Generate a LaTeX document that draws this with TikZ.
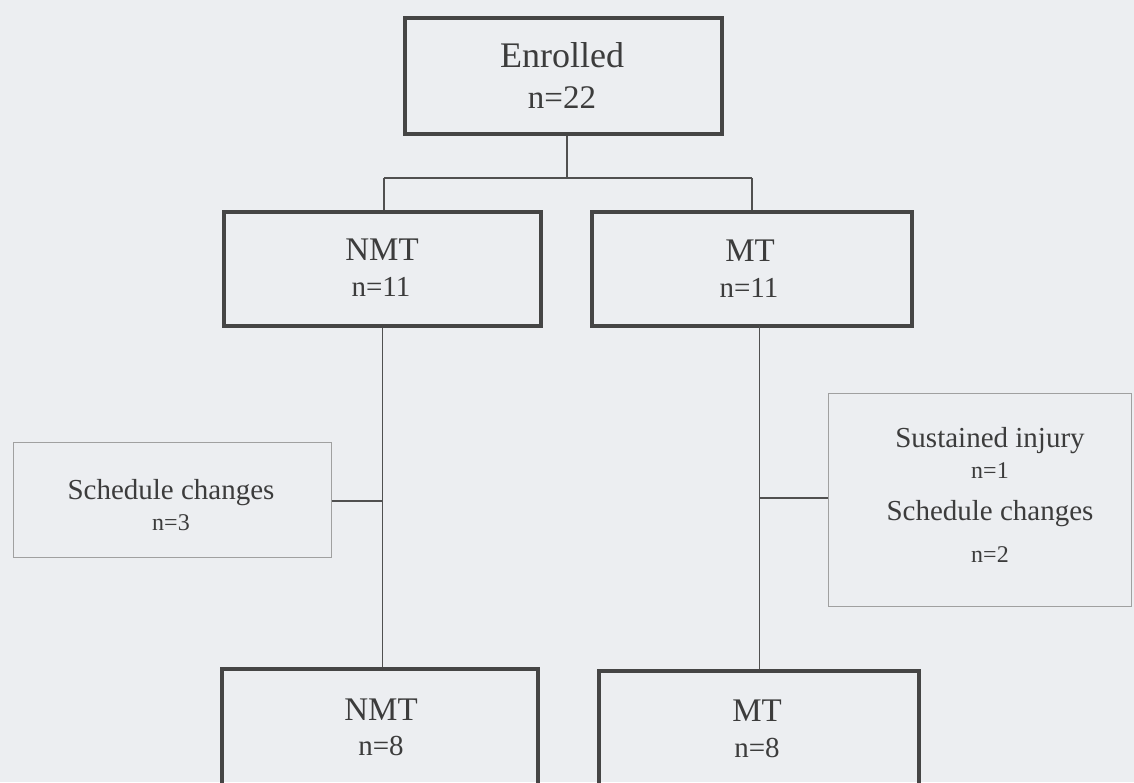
\documentclass[tikz,border=0pt]{standalone}
\usepackage{fontspec}
\setmainfont{Liberation Serif}
\definecolor{paper}{HTML}{ECEEF1}
\definecolor{ink}{HTML}{3C3C3C}
\definecolor{frame}{HTML}{454545}
\definecolor{wire}{HTML}{505050}
\definecolor{thin}{HTML}{A0A0A0}
\tikzset{
  mainbox/.style={draw=frame, line width=3.1pt, rectangle, inner sep=0pt},
  sidebox/.style={draw=thin, line width=1pt, rectangle, inner sep=0pt},
  txt/.style={text=ink, inner sep=0pt, anchor=base},
  wirel/.style={draw=wire, line width=1.6pt},
  big/.style={font=\fontsize{36}{40}\selectfont},
  mid/.style={font=\fontsize{33}{38}\selectfont},
  sml/.style={font=\fontsize{29}{34}\selectfont},
  side/.style={font=\fontsize{29}{34}\selectfont},
  sidesm/.style={font=\fontsize{24}{28}\selectfont},
}
\begin{document}
\begin{tikzpicture}[x=1pt,y=-1pt]
\fill[paper] (0,0) rectangle (1134,782);
\useasboundingbox (0,0) rectangle (1134,782);
\clip (0,0) rectangle (1134,782);
% boxes
\node[mainbox, minimum width=317pt, minimum height=116pt] (enr) at (563.5,76) {};
\node[mainbox, minimum width=317pt, minimum height=114pt] (nmt1) at (382.5,269) {};
\node[mainbox, minimum width=320pt, minimum height=114pt] (mt1) at (752,269) {};
\node[sidebox, minimum width=318pt, minimum height=115pt] (sch) at (172,499.5) {};
\node[sidebox, minimum width=303pt, minimum height=213pt] (inj) at (979.5,499.5) {};
\node[mainbox, minimum width=316pt, minimum height=140pt] (nmt2) at (380,739) {};
\node[mainbox, minimum width=320pt, minimum height=140pt] (mt2) at (759,741) {};
% texts
\node[txt, big] (enrA) at (562,67) {Enrolled};
\node[txt, font=\fontsize{33}{38}\selectfont] (enrB) at (562,108) {n=22};
\node[txt, mid] (nmt1A) at (382,260) {NMT};
\node[txt, sml] (nmt1B) at (381,296) {n=11};
\node[txt, mid] (mt1A) at (750,261) {MT};
\node[txt, sml] (mt1B) at (749,297) {n=11};
\node[txt, side] (schA) at (171,499) {Schedule changes};
\node[txt, sidesm] (schB) at (171,530) {n=3};
\node[txt, side] (injA) at (990,447) {Sustained injury};
\node[txt, sidesm] (injB) at (990,478) {n=1};
\node[txt, side] (injC) at (990,520) {Schedule changes};
\node[txt, sidesm] (injD) at (990,562) {n=2};
\node[txt, mid] (nmt2A) at (381,720) {NMT};
\node[txt, sml] (nmt2B) at (381,755) {n=8};
\node[txt, mid] (mt2A) at (757,721) {MT};
\node[txt, sml] (mt2B) at (757,757) {n=8};
% connectors
\coordinate (split) at (567,178);
\draw[wirel] (enr.south -| split) -- (split);
\draw[wirel] (384,178) -- (752,178);
\draw[wirel] (384,178) -- (nmt1.north -| 384,0);
\draw[wirel] (752,178) -- (mt1.north);
\draw[wirel] (nmt1.south) -- (nmt2.north -| nmt1.south);
\coordinate (mtdrop) at (759.5,326);
\draw[wirel] (mtdrop) -- (mt2.north -| mtdrop);
\coordinate (lj) at (382.5,501);
\draw[wirel] (sch.east |- lj) -- (lj);
\coordinate (rj) at (759.5,498);
\draw[wirel] (rj) -- (inj.west |- rj);
\end{tikzpicture}
\end{document}
